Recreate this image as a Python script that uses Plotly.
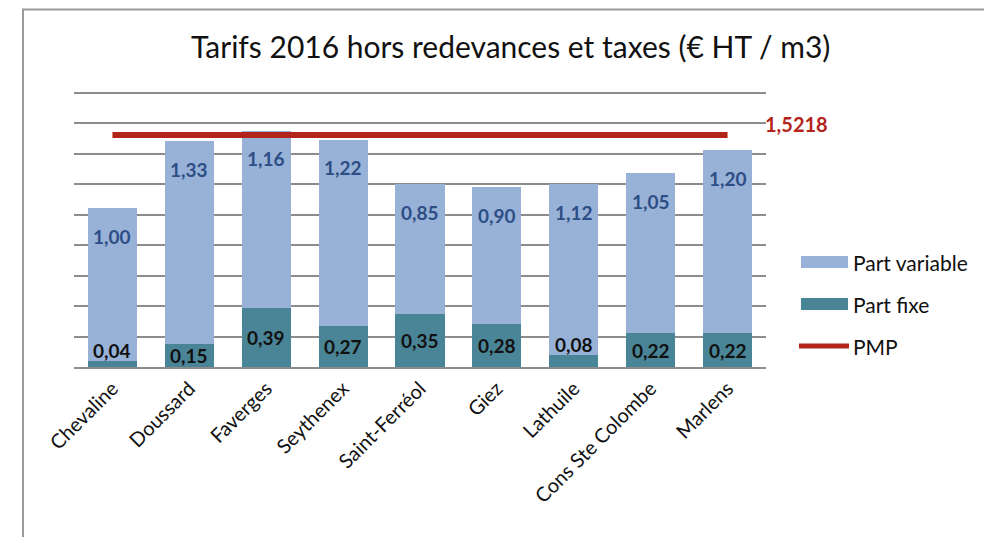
import plotly.graph_objects as go

communes = ["Chevaline", "Doussard", "Faverges", "Seythenex", "Saint-Ferréol",
            "Giez", "Lathuile", "Cons Ste Colombe", "Marlens"]
part_fixe = [0.04, 0.15, 0.39, 0.27, 0.35, 0.28, 0.08, 0.22, 0.22]
part_variable = [1.00, 1.33, 1.16, 1.22, 0.85, 0.90, 1.12, 1.05, 1.20]
pmp_value = 1.5218

title_text = "Tarifs 2016 hors redevances et taxes (€ HT / m3)"
FONT = "Lato, Calibri, Carlito, sans-serif"
C_VAR = "#98b2d7"
C_FIX = "#4a8597"
C_PMP = "#b3241b"
C_VAR_TXT = "#2d4d85"

def fmt(v, nd=2):
    return f"{v:.{nd}f}".replace(".", ",")

# page offset (default body margin) and plot-area placement in screen pixels
OFF = 8
FIG_W, FIG_H = 992 - OFF, 537 - OFF
PL, PR, PT, PB = 74, 766, 91, 367
Y_MAX = 1.81
W = float(PR - PL)
H = float(PB - PT)
def px(xp):
    return (xp - PL) / W
def py(yp):
    return (PB - yp) / H

fig = go.Figure()
fig.add_trace(go.Bar(x=communes, y=part_fixe, name="Part fixe",
                     marker=dict(color=C_FIX, line=dict(width=0)), showlegend=False))
fig.add_trace(go.Bar(x=communes, y=part_variable, name="Part variable",
                     marker=dict(color=C_VAR, line=dict(width=0)), showlegend=False))
fig.add_trace(go.Scatter(x=communes, y=[pmp_value] * len(communes), mode="lines",
                         name="PMP", line=dict(color=C_PMP, width=6), showlegend=False))

annotations = []
for c, f, v in zip(communes, part_fixe, part_variable):
    total = f + v
    annotations.append(dict(x=c, y=total, xref="x", yref="y", text=fmt(v),
                            showarrow=False, yshift=-28,
                            font=dict(family=FONT, size=19, color=C_VAR_TXT, weight="bold")))
    if f >= 0.1:
        fy, shift = f / 2, 0
    else:
        fy, shift = f, 10
    annotations.append(dict(x=c, y=fy, xref="x", yref="y", text=fmt(f),
                            showarrow=False, yshift=shift,
                            font=dict(family=FONT, size=19, color="#111111", weight="bold")))

# PMP value label
annotations.append(dict(x=1.0, y=pmp_value, xref="paper", yref="y", text=fmt(pmp_value, 4),
                        showarrow=False, xanchor="left", xshift=-3, yshift=11,
                        font=dict(family=FONT, size=20, color=C_PMP, weight="bold")))

# Title
annotations.append(dict(x=px(510), y=py(46), xref="paper", yref="paper",
                        text=title_text, showarrow=False, xanchor="center", yanchor="middle",
                        font=dict(family=FONT, size=30, color="#111111")))

legend_items = [("Part variable", C_VAR, "rect", 262),
                ("Part fixe", C_FIX, "rect", 304),
                ("PMP", C_PMP, "line", 346)]
shapes = []
for label, col, kind, yc in legend_items:
    if kind == "rect":
        shapes.append(dict(type="rect", xref="paper", yref="paper",
                           x0=px(801), x1=px(848), y0=py(yc + 6), y1=py(yc - 6),
                           fillcolor=col, line=dict(width=0)))
    else:
        shapes.append(dict(type="line", xref="paper", yref="paper",
                           x0=px(799), x1=px(849), y0=py(yc), y1=py(yc),
                           line=dict(color=col, width=5)))
    annotations.append(dict(x=px(851), y=py(yc), xref="paper", yref="paper", text=label,
                            showarrow=False, xanchor="left", yanchor="middle",
                            font=dict(family=FONT, size=21, color="#111111")))

# outer frame (top & left)
shapes.append(dict(type="line", xref="paper", yref="paper", x0=px(22), x1=px(1000),
                   y0=py(OFF + 1.5), y1=py(OFF + 1.5), line=dict(color="#9a9a9a", width=2)))
shapes.append(dict(type="line", xref="paper", yref="paper", x0=px(23), x1=px(23),
                   y0=py(OFF + 1.5), y1=py(545), line=dict(color="#9a9a9a", width=2)))

fig.update_layout(
    width=FIG_W, height=FIG_H,
    margin=dict(l=PL - OFF, r=FIG_W - (PR - OFF), t=PT - OFF, b=FIG_H - (PB - OFF), pad=0),
    paper_bgcolor="white", plot_bgcolor="white",
    barmode="stack", bargap=0.36,
    font=dict(family=FONT, color="#111111"),
    annotations=annotations, shapes=shapes,
    showlegend=False,
    xaxis=dict(type="category", range=[-0.5, len(communes) - 0.5], tickangle=-45,
               tickfont=dict(family=FONT, size=20, color="#111111"),
               showline=True, linecolor="#8c8c8c", linewidth=2, ticks="",
               showgrid=False, fixedrange=True),
    yaxis=dict(range=[0, Y_MAX], tick0=0, dtick=0.2, showticklabels=False, showgrid=True,
               gridcolor="#8c8c8c", gridwidth=1.5, zeroline=False, showline=False,
               fixedrange=True),
)

fig.write_html("out.html")
